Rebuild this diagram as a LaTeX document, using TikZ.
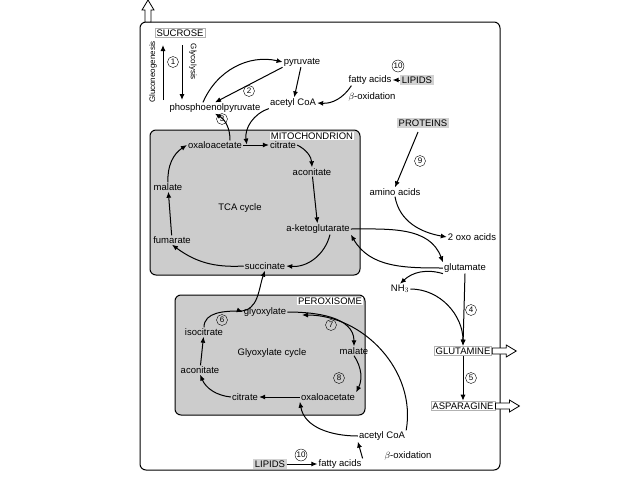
\documentclass[tikz,border=0pt]{standalone}
\usepackage{fontspec}
\setmainfont{Liberation Sans}
\usetikzlibrary{arrows.meta}
\begin{document}
\begin{tikzpicture}[x=1pt,y=-1pt,font=\fontsize{9.5}{10}\selectfont,
 t/.style={inner sep=1pt},
 wbox/.style={draw=gray!60,fill=white,inner sep=1.5pt,line width=0.8pt},
 gbox/.style={fill=gray!35,inner sep=1.5pt},
 num/.style={circle,draw,inner sep=0.5pt,minimum size=11pt,font=\fontsize{8}{8}\selectfont},
 a/.style={-{Latex[length=6pt,width=5pt]},line width=1pt},
 org/.style={draw,line width=1pt,fill=gray!40,rounded corners=6pt},
 hollow/.style={draw,fill=white,line width=0.8pt,line join=miter}]
\useasboundingbox (0,0) rectangle (638,479);
\draw[line width=1pt,rounded corners=6pt] (140,22) rectangle (500,470);
\coordinate (upb) at (148,22);
\draw[hollow] (upb) ++(-3,0) -- ++(0,-12) -- ++(-3,0) -- ++(6,-10) -- ++(6,10) -- ++(-3,0) -- ++(0,12) -- cycle;
\node[wbox] (suc) at (180,33) {SUCROSE};
\node[t,rotate=90,font=\fontsize{8}{8}\selectfont] (glu) at (153,72) {Gluconeogenesis};
\node[t,rotate=-90,font=\fontsize{8}{8}\selectfont] (gly) at (193,62) {Glycolysis};
\node[t] (pep) at (215,108) {phosphoenolpyruvate};
\coordinate (p1) at (163,100); \coordinate (p2) at (163,45);
\coordinate (q1) at (182,45); \coordinate (q2) at (182,100);
\draw[a] (p1) -- (p2); \draw[a] (q1) -- (q2);
\node[num] (n1) at (173,62) {1};
\node[t] (pyr) at (302,62) {pyruvate};
\node[t] (acoa) at (293,103) {acetyl CoA};
\node[t] (fa) at (370,80) {fatty acids};
\node[gbox] (lip) at (417,80) {LIPIDS};
\node[num] (n10) at (398,66) {10};
\node[t] (box) at (372,97) {$\beta$-oxidation};
\node[num] (n2) at (249,91) {2};
\node[num] (n3) at (222,119) {3};
\draw[a] (lip) -- (fa);
\draw[a] (fa.south west) ++(4,0) to[bend left=30] (acoa.east);
\draw[a] (pyr) -- (acoa);
\draw[a] (pep.north) ++(-12,0) to[bend left=40] (pyr.west);
\draw[a] (pyr.south west) -- (pep.north);
% mitochondrion
\draw[org] (150,130) rectangle (360,275);
\node[fill=white,inner sep=1pt] (mit) at (312,136) {MITOCHONDRION};
\node[t] (oaa) at (215,145) {oxaloacetate};
\node[t] (cit) at (283,145) {citrate};
\node[t] (aco) at (312,172) {aconitate};
\node[t] (tca) at (240,208) {TCA cycle};
\node[t] (akg) at (318,229) {a-ketoglutarate};
\node[t] (mal) at (168,187) {malate};
\node[t] (fum) at (172,240) {fumarate};
\node[t] (succ) at (265,266) {succinate};
\draw[a] (oaa) -- (cit);
\draw[a] (cit.east) to[bend left=30] (aco.north);
\draw[a] (aco) -- (akg);
\draw[a] (akg.south) ++(12,0) to[bend left=40] (succ.east);
\draw[a] (succ.west) to[bend left=20] (fum.south);
\draw[a] (fum) -- (mal);
\draw[a] (mal.north) to[bend left=30] (oaa.west);
\draw[a] (oaa.north) ++(15,0) to[bend right=30] (pep.south);
\draw[a] (acoa.south west) to[bend right=40] ++(-22,36);
% proteins
\node[gbox] (pro) at (423,123) {PROTEINS};
\node[num] (n9) at (420,161) {9};
\node[t] (aa) at (395,192) {amino acids};
\node[t] (oxo) at (472,237) {2 oxo acids};
\node[t] (glm) at (465,268) {glutamate};
\node[t] (nh3) at (400,289) {NH$_3$};
\draw[a] (pro.south) ++(-5,4) -- (aa.north);
\draw[a] (aa.south) to[out=-80,in=170] (oxo.west);
\draw[a] (akg.east) to[out=0,in=110] (glm.north west);
\draw[a] (glm.west) to[out=180,in=-60] (akg.south east);
\draw[a] (glm.south west) to[bend right=30] (nh3.north);
% peroxisome
\draw[org] (175,295) rectangle (365,415);
\node[fill=white,inner sep=1pt] (per) at (330,301) {PEROXISOME};
\node[t] (glx) at (265,312) {glyoxylate};
\node[t] (iso) at (204,332) {isocitrate};
\node[num] (n6) at (222,320) {6};
\node[num] (n7) at (331,325) {7};
\node[t] (mal2) at (354,351) {malate};
\node[t] (gc) at (272,353) {Glyoxylate cycle};
\node[t] (aco2) at (200,370) {aconitate};
\node[num] (n8) at (339,378) {8};
\node[t] (cit2) at (245,397) {citrate};
\node[t] (oaa2) at (328,397) {oxaloacetate};
\coordinate (br) at (240,311);
\draw[line width=1pt] (iso.north) to[out=90,in=180] (br);
\draw[a] (br) -- (glx.west);
\draw[a] (br) to[out=0,in=-110] (succ.south);
\draw[a] (glx.east) to[out=0,in=90] (mal2.north);
\draw[a] (mal2.south) to[bend left=30] (oaa2.north east);
\draw[a] (oaa2) -- (cit2);
\draw[a] (cit2.west) to[bend left=30] (aco2.south);
\draw[a] (aco2) -- (iso);
% glutamine
\node[wbox] (gln) at (463,351) {GLUTAMINE};
\node[wbox] (asn) at (463,406) {ASPARAGINE};
\node[num] (n4) at (471,310) {4};
\node[num] (n5) at (471,378) {5};
\draw[a] (glm.south) -- (gln.north);
\draw[a] (nh3.east) to[out=0,in=90] (gln.north);
\draw[a] (gln) -- (asn);
\draw[hollow] (gln.east) ++(0,-3) -- ++(14,0) -- ++(0,-3) -- ++(10,6) -- ++(-10,6) -- ++(0,-3) -- ++(-14,0) -- cycle;
\draw[hollow] (asn.east) ++(0,-3) -- ++(14,0) -- ++(0,-3) -- ++(10,6) -- ++(-10,6) -- ++(0,-3) -- ++(-14,0) -- cycle;
% bottom
\node[t] (acoa2) at (382,436) {acetyl CoA};
\node[t] (fa2) at (340,464) {fatty acids};
\node[gbox] (lip2) at (270,464) {LIPIDS};
\node[num] (n102) at (301,455) {10};
\node[t] (box2) at (408,456) {$\beta$-oxidation};
\draw[a] (lip2) -- (fa2);
\draw[a] (fa2.north east) -- (acoa2.south west);
\draw[a] (acoa2.west) to[out=180,in=-80] (oaa2.south west);
\coordinate (gin) at (302,315);
\draw[a] (acoa2.north east) to[out=80,in=0] (gin);
\end{tikzpicture}
\end{document}
